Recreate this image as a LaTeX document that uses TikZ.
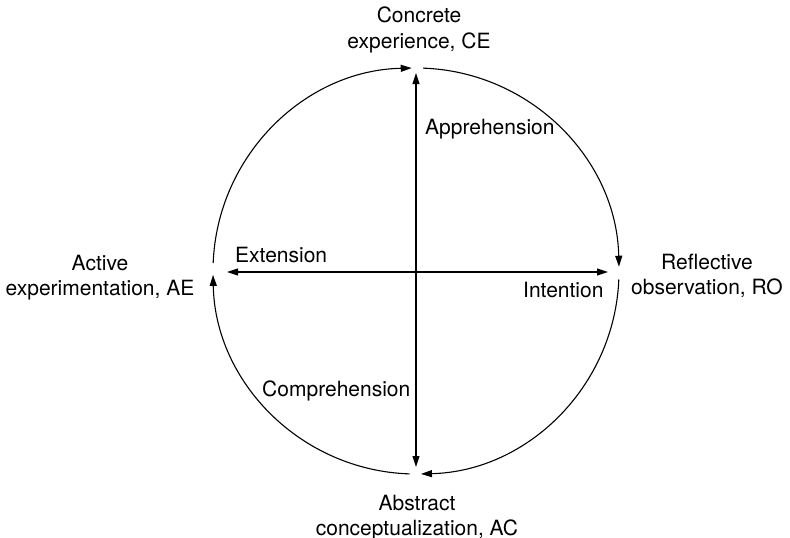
\documentclass[tikz,border=0pt]{standalone}
\usepackage{fontspec}
\setmainfont{TeX Gyre Heros}
\usetikzlibrary{arrows.meta,calc}
\begin{document}
\begin{tikzpicture}[x=1pt,y=1pt,
  every node/.style={font=\fontsize{21}{25}\selectfont, inner sep=0pt},
  stage/.style={anchor=base},
  mode/.style={anchor=base west},
  axis/.style={line width=1.1pt, {Triangle[length=11pt,width=7pt]}-{Triangle[length=11pt,width=7pt]}},
  cyc/.style={line width=1.1pt, -{Triangle[length=11pt,width=7pt]}},
]
\useasboundingbox (0,0) rectangle (790,-538);

% centre of the learning cycle
\coordinate (o) at (416,-271);

% stage labels
\node[stage] (ce) at (419,-23) {\begin{tabular}[t]{@{}c@{}}Concrete\\experience, CE\end{tabular}};
\node[stage] (ro) at (707,-269) {\begin{tabular}[t]{@{}c@{}}Reflective\\observation, RO\end{tabular}};
\node[stage] (ac) at (417,-510) {\begin{tabular}[t]{@{}c@{}}Abstract\\conceptualization, AC\end{tabular}};
\node[stage] (ae) at (100,-270) {\begin{tabular}[t]{@{}c@{}}Active\\experimentation, AE\end{tabular}};

% axis end points
\coordinate (n) at (416,-73);
\coordinate (s) at (416,-467);
\coordinate (e) at (608,-272);
\coordinate (w) at (227,-272);

\draw[axis] (s) -- (n);
\draw[axis] (w) -- (e);

% axis labels
\node[mode] (appr) at (425,-134) {Apprehension};
\node[mode] (ext)  at (235,-262) {Extension};
\node[mode] (int)  at (523,-297) {Intention};
\node[mode] (comp) at (262,-396) {Comprehension};

% arcs of the cycle, clockwise
\coordinate (ae-out) at ($(o)+(177.8:203pt)$);
\coordinate (ce-out) at ($(o)+(88:203pt)$);
\coordinate (ro-out) at ($(o)+(-2.4:203pt)$);
\coordinate (ac-out) at ($(o)+(-91.8:203pt)$);

\draw[cyc] (ae-out) arc[start angle=177.8, end angle=91.2, radius=203pt];
\draw[cyc] (ce-out) arc[start angle=88, end angle=1.2, radius=203pt];
\draw[cyc] (ro-out) arc[start angle=-2.4, end angle=-88.6, radius=203pt];
\draw[cyc] (ac-out) arc[start angle=-91.8, end angle=-178.9, radius=203pt];
\end{tikzpicture}
\end{document}
